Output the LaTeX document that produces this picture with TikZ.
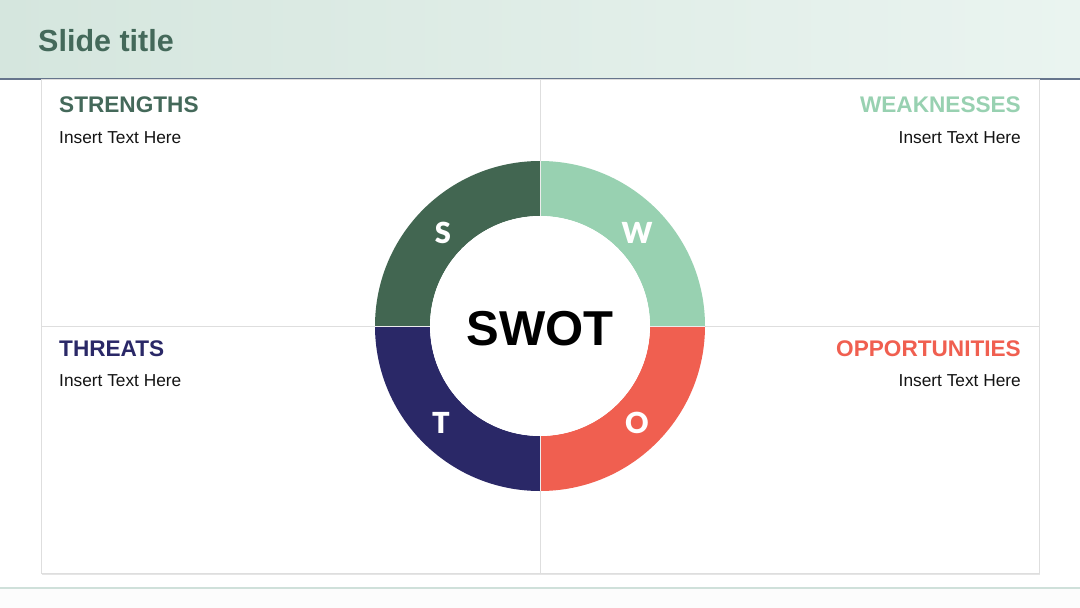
\documentclass[tikz,border=0pt]{standalone}
\usepackage{fontspec}
\setmainfont{Liberation Sans}
\newfontfamily\latofont{Lato}[BoldFont={Lato Black}]
\definecolor{sgreen}{HTML}{426651}
\definecolor{wgreen}{HTML}{98D1B1}
\definecolor{ored}{HTML}{F05F50}
\definecolor{tblue}{HTML}{2A2867}
\definecolor{titlegreen}{HTML}{44695A}
\definecolor{hdrL}{HTML}{D5E6DE}
\definecolor{hdrR}{HTML}{EAF4F0}
\definecolor{hdrline}{HTML}{66758C}
\definecolor{gridc}{HTML}{DEDEDE}
\definecolor{botline}{HTML}{CFE0DA}
\tikzset{
  heading/.style={font=\bfseries\fontsize{22.6}{26}\selectfont, inner sep=0pt},
  bodytext/.style={font=\fontsize{17.3}{20}\selectfont, inner sep=0pt, text=black!92},
  ringletter/.style={font=\latofont\bfseries\fontsize{29}{34}\selectfont, text=white, inner sep=0pt},
}
\begin{document}
\begin{tikzpicture}[x=1pt,y=-1pt]
\useasboundingbox (0,0) rectangle (1080,608);
\fill[white] (0,0) rectangle (1080,608);
% header
\shade[left color=hdrL, right color=hdrR] (0,0) rectangle (1080,78);
\draw[hdrline, line width=2pt] (0,78.5) -- (1080,78.5);
% bottom line
\fill[black!1] (0,589) rectangle (1080,608);
\draw[botline, line width=1.5pt] (0,588) -- (1080,588);
% main box
\fill[black!10] (42,80) rectangle (1040,575);
\filldraw[fill=white, draw=gridc, line width=0.8pt] (41,79.5) rectangle (1039,573);
\draw[gridc, line width=0.8pt] (540,79.5) -- (540,573);
\draw[gridc, line width=0.8pt] (41,326) -- (1039,326);
% ring
\coordinate (c) at (540,326);
\fill[sgreen] (c) ++(180:165) arc[start angle=180, end angle=270, radius=165] -- ++(0,55) arc[start angle=270, end angle=180, radius=110] -- cycle;
\fill[wgreen] (c) ++(270:165) arc[start angle=270, end angle=360, radius=165] -- ++(-55,0) arc[start angle=360, end angle=270, radius=110] -- cycle;
\fill[ored] (c) ++(0:165) arc[start angle=0, end angle=90, radius=165] -- ++(0,-55) arc[start angle=90, end angle=0, radius=110] -- cycle;
\fill[tblue] (c) ++(90:165) arc[start angle=90, end angle=180, radius=165] -- ++(55,0) arc[start angle=180, end angle=90, radius=110] -- cycle;
\fill[white] (c) circle[radius=110];
\draw[white!85!gray, line width=0.6pt] (540,161) -- (540,216) (540,436) -- (540,491) (375,326) -- (430,326) (650,326) -- (705,326);
% texts
\node[anchor=base west, inner sep=0pt, font=\bfseries\fontsize{30.5}{36}\selectfont, text=titlegreen] (title) at (38,51) {Slide title};
\node[heading, anchor=base west, text=titlegreen] (sh) at (59,112) {STRENGTHS};
\node[bodytext, anchor=base west] (sb) at (59,143) {Insert Text Here};
\node[heading, anchor=base east, text=wgreen] (wh) at (1021,112) {WEAKNESSES};
\node[bodytext, anchor=base east] (wb) at (1021,143) {Insert Text Here};
\node[heading, anchor=base west, text=tblue] (th) at (59,356) {THREATS};
\node[bodytext, anchor=base west] (tb) at (59,386) {Insert Text Here};
\node[heading, anchor=base east, text=ored] (oh) at (1021,356) {OPPORTUNITIES};
\node[bodytext, anchor=base east] (ob) at (1021,386) {Insert Text Here};
\node[anchor=base, inner sep=0pt, font=\bfseries\fontsize{49}{56}\selectfont] (swot) at (540,345) {SWOT};
\node[ringletter, anchor=base] (ls) at (443,243) {S};
\node[ringletter, anchor=base] (lw) at (637,243) {W};
\node[ringletter, anchor=base] (lt) at (441,433) {T};
\node[ringletter, anchor=base] (lo) at (637,433) {O};
\end{tikzpicture}
\end{document}
